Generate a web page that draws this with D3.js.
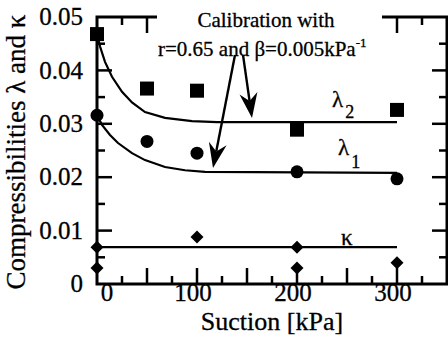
<!DOCTYPE html>
<html><head><meta charset="utf-8">
<script src="https://cdn.jsdelivr.net/npm/d3@7"></script>
<style>html,body{margin:0;padding:0;background:#fff}svg{display:block}</style>
</head><body>
<script>
// ---- data ----
const squares = [[0,0.0468],[50,0.0366],[100,0.0362],[200,0.0289],[300,0.0326]];
const circles = [[0,0.0316],[50,0.0267],[100,0.0245],[200,0.0210],[300,0.0197]];
const diamonds = [[0,0.0069],[0,0.0030],[100,0.0088],[200,0.0069],[200,0.0030],[300,0.0040]];
const lambda2Curve = [[0,0.0468],[3,0.0445],[8,0.0416],[15,0.0388],[25,0.0360],[35,0.0340],[48,0.0322],[68,0.0311],[95,0.0305],[120,0.0303],[300,0.0303]];
const lambda1Curve = [[0,0.0316],[5,0.0298],[13,0.0279],[21,0.0264],[35,0.0245],[48,0.0232],[68,0.0219],[88,0.0213],[108,0.0210],[300,0.0208]];
const kappaLine = [[0,0.0069],[300,0.0069]];
const xTickLabels = [0,100,200,300];
const yTickLabels = [0,0.01,0.02,0.03,0.04,0.05];
const xMajorTicks = [50,100,150,200,250,300];
const xMinorTicks = [25,75,125,175,225,275,325];
const yMajorTicks = [0.01,0.02,0.03,0.04];
const yMinorTicks = [0.005,0.015,0.025,0.035,0.045];
const arrows = [ {from:[138,0.0429], to:[116,0.0217]}, {from:[146,0.0429], to:[155,0.0311]} ];

const W=448,H=338;
const svg=d3.select("body").append("svg").attr("width",W).attr("height",H);
const x=d3.scaleLinear().domain([0,350]).range([97,447]);
const y=d3.scaleLinear().domain([0,0.05]).range([284,17]);
const FONT="'Liberation Serif'";
const txt=(sel,size)=>sel.append("text").style("font-family",FONT).style("font-size",size+"px")
  .attr("fill","#000").attr("stroke","#000").attr("stroke-width",0.3);

// ticks
const tk=svg.append("g").attr("stroke","#000").attr("stroke-width",2.5);
xMajorTicks.forEach(v=>{tk.append("line").attr("x1",x(v)).attr("x2",x(v)).attr("y1",y(0)).attr("y2",y(0)-16);
  tk.append("line").attr("x1",x(v)).attr("x2",x(v)).attr("y1",y(0.05)).attr("y2",y(0.05)+16);});
xMinorTicks.forEach(v=>{tk.append("line").attr("x1",x(v)).attr("x2",x(v)).attr("y1",y(0)).attr("y2",y(0)-8);
  tk.append("line").attr("x1",x(v)).attr("x2",x(v)).attr("y1",y(0.05)).attr("y2",y(0.05)+8);});
yMajorTicks.forEach(v=>{tk.append("line").attr("x1",x(0)).attr("x2",x(0)+15).attr("y1",y(v)).attr("y2",y(v));
  tk.append("line").attr("x1",x(350)).attr("x2",x(350)-15).attr("y1",y(v)).attr("y2",y(v));});
yMinorTicks.forEach(v=>{tk.append("line").attr("x1",x(0)).attr("x2",x(0)+8).attr("y1",y(v)).attr("y2",y(v));
  tk.append("line").attr("x1",x(350)).attr("x2",x(350)-8).attr("y1",y(v)).attr("y2",y(v));});

// frame
svg.append("rect").attr("x",x(0)).attr("y",y(0.05)).attr("width",x(350)-x(0)).attr("height",y(0)-y(0.05))
  .attr("fill","none").attr("stroke","#000").attr("stroke-width",3);

// tick labels
xTickLabels.forEach(v=>{txt(svg,25).attr("text-anchor","middle").attr("x",x(v)+(v===0?10:-4)).attr("y",301).text(v);});
yTickLabels.forEach(v=>{txt(svg,25).attr("text-anchor","end").attr("x",83).attr("y",y(v)).attr("dy","0.33em").text(v===0?"0":v.toFixed(2));});

// axis titles
txt(svg,26).attr("text-anchor","middle").attr("x",272).attr("y",330).text("Suction [kPa]");
txt(svg,27).attr("text-anchor","middle").attr("transform","translate(25,152) rotate(-90)").text("Compressibilities λ and κ");

// lines
const line=d3.line().x(d=>x(d[0])).y(d=>y(d[1]));
[lambda2Curve,lambda1Curve,kappaLine].forEach(c=>svg.append("path").attr("d",line(c)).attr("fill","none").attr("stroke","#000").attr("stroke-width",2.2));

// markers
svg.append("g").selectAll("rect").data(squares).join("rect")
  .attr("x",d=>x(d[0])-7).attr("y",d=>y(d[1])-7).attr("width",14).attr("height",14).attr("fill","#000");
svg.append("g").selectAll("circle").data(circles).join("circle")
  .attr("cx",d=>x(d[0])).attr("cy",d=>y(d[1])).attr("r",6.5).attr("fill","#000");
svg.append("g").selectAll("path").data(diamonds).join("path")
  .attr("d",d=>{const cx=x(d[0]),cy=y(d[1]);return `M${cx},${cy-6.5}L${cx+6.5},${cy}L${cx},${cy+6.5}L${cx-6.5},${cy}Z`;}).attr("fill","#000");

// annotation box
svg.append("rect").attr("x",157).attr("y",4).attr("width",225).attr("height",30).attr("fill","#fff");
txt(svg,21).attr("text-anchor","middle").attr("x",266).attr("y",27).text("Calibration with");
const t2=txt(svg,21).attr("x",158).attr("y",56);
t2.append("tspan").text("r=0.65 and  β=0.005kPa");
t2.append("tspan").style("font-size","13px").attr("dy",-9).text("-1");

// arrows
arrows.forEach(a=>{
  const x1=x(a.from[0]),y1=y(a.from[1]),x2=x(a.to[0]),y2=y(a.to[1]);
  const dx=x2-x1,dy=y2-y1,L=Math.hypot(dx,dy),ux=dx/L,uy=dy/L,px=-uy,py=ux;
  const hl=25,hw=9,notch=17;
  svg.append("line").attr("x1",x1).attr("y1",y1).attr("x2",x2-ux*notch).attr("y2",y2-uy*notch).attr("stroke","#000").attr("stroke-width",2.4);
  const bx=x2-ux*hl,by=y2-uy*hl;
  svg.append("path").attr("d",`M${x2},${y2}L${bx+px*hw},${by+py*hw}L${x2-ux*notch},${y2-uy*notch}L${bx-px*hw},${by-py*hw}Z`).attr("fill","#000");
});

// series labels
const l2=txt(svg,23).attr("x",332).attr("y",107);
l2.append("tspan").text("λ"); l2.append("tspan").style("font-size","18px").attr("dx",2).attr("dy",11).text("2");
const l1=txt(svg,23).attr("x",338).attr("y",155);
l1.append("tspan").text("λ"); l1.append("tspan").style("font-size","18px").attr("dx",2).attr("dy",13).text("1");
txt(svg,23).attr("x",341).attr("y",245).text("κ");
</script>
</body></html>
